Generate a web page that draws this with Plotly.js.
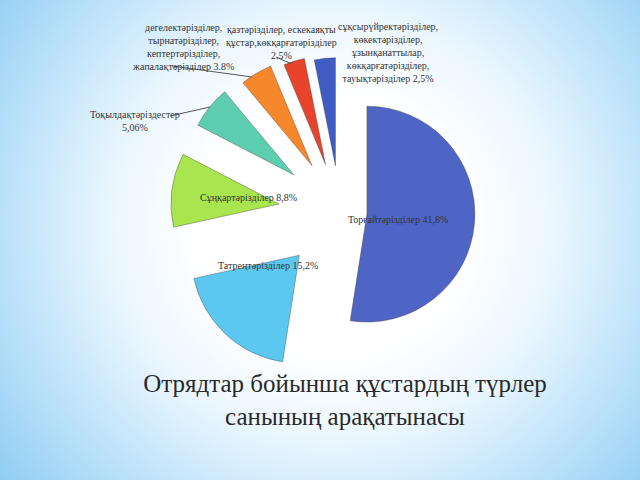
<!DOCTYPE html>
<html><head><meta charset="utf-8">
<script src="https://cdn.plot.ly/plotly-3.0.1.min.js"></script>
<style>
html,body{margin:0;padding:0;width:640px;height:480px;overflow:hidden;}
body{background: radial-gradient(ellipse 70% 90% at 52% 47%, #ffffff 30%, #eaf6fe 50%, #b8e0f9 75%, #86c8f2 100%);}
#chart{width:640px;height:480px;}
</style></head><body><div id="chart"></div>
<script>
const categories = [
  'Торғайтәрізділер',
  'Татреңтәрізділер',
  'Сұңқартәрізділер',
  'Тоқылдақтәріздестер',
  'дегелектәрізділер,\nтырнатәрізділер,\nкептертәрізділер,\nжапалақтәрізділер',
  'қазтәрізділер, ескекаяқты\nқұстар,көкқарғатәрізділер',
  'сұқсырүйректәрізділер,\nкөкектәрізділер,\nұзынқанаттылар,\nкөкқарғатәрізділер,\nтауықтәрізділер'
];
const values = [41.8, 15.2, 8.8, 5.06, 3.8, 2.5, 2.5];
const valueLabels = ['41,8%', '15,2%', '8,8%', '5,06%', '3.8%', '2.5%', '2,5%'];
const titleText = 'Отрядтар бойынша құстардың түрлер<br>санының арақатынасы';

const colors = ['#4f65c6', '#5cc8ef', '#a9e54f', '#5dcfb0', '#f7872b', '#e8432b', '#3f5cc4'];
const seps = [' ', ' ', ' ', '\n', ' ', '\n', ' '];
const labelPos = [[398,220],[268,265],[248,197],[135,121],[183,47],[281,42],[388,53]];

const W = 640, H = 480;
const annotations = categories.map((c, i) => ({
  text: (c + seps[i] + valueLabels[i]).split('\n').join('<br>'),
  x: labelPos[i][0] / W, y: 1 - labelPos[i][1] / H,
  xref: 'paper', yref: 'paper', xanchor: 'center', yanchor: 'middle',
  showarrow: false, align: 'center',
  font: {family: 'Liberation Serif', size: 10, color: '#333333'}
}));

const leader = (x0, y0, x1, y1) => ({type: 'line', xref: 'paper', yref: 'paper',
  x0: x0 / W, y0: 1 - y0 / H, x1: x1 / W, y1: 1 - y1 / H,
  line: {color: '#555555', width: 1}});

const trace = {
  type: 'pie',
  labels: categories,
  values: values,
  sort: false,
  direction: 'clockwise',
  rotation: 0,
  pull: [0.25, 0.55, 0.57, 0.55, 0.5, 0.46, 0.43],
  textinfo: 'none',
  hoverinfo: 'none',
  showlegend: false,
  marker: {colors: colors, line: {color: 'rgba(60,60,60,0.55)', width: 0.7}},
  domain: {x: [170.5 / W, 509.5 / W], y: [1 - 381.5 / H, 1 - 42.5 / H]}
};

const layout = {
  width: W, height: H,
  margin: {l: 0, r: 0, t: 0, b: 0},
  paper_bgcolor: 'rgba(0,0,0,0)',
  plot_bgcolor: 'rgba(0,0,0,0)',
  showlegend: false,
  title: {text: titleText, x: 345 / W, y: 1 - 392 / H, xanchor: 'center', yanchor: 'middle',
    font: {family: 'Liberation Serif', size: 25, color: '#2a2a2a'}},
  annotations: annotations,
  shapes: [leader(172, 66, 252, 77), leader(170, 116, 210, 107), leader(276, 57, 292, 64)]
};

Plotly.newPlot('chart', [trace], layout, {staticPlot: true, displayModeBar: false});
</script></body></html>
